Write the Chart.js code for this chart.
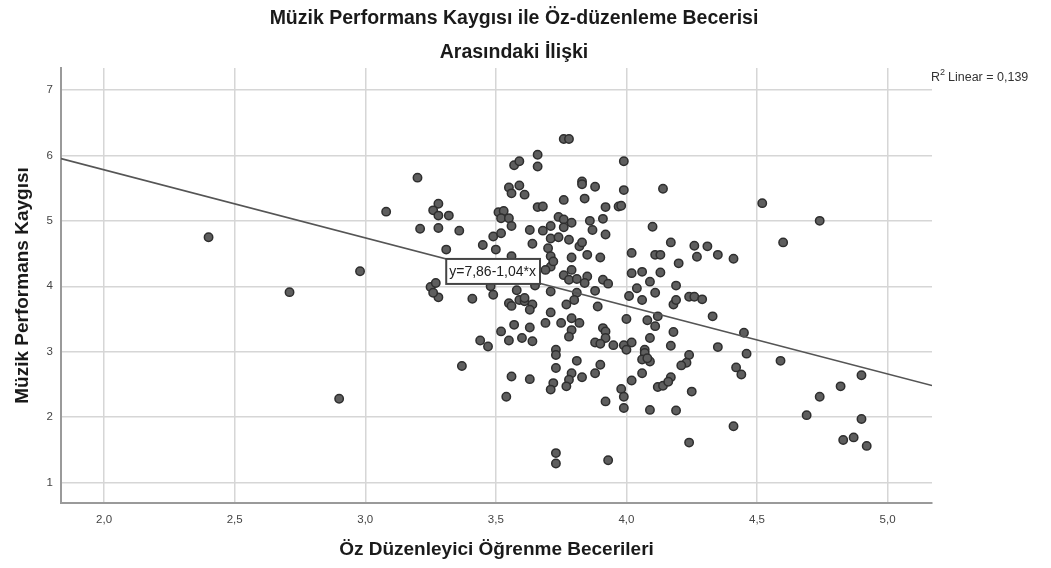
<!DOCTYPE html>
<html>
<head>
<meta charset="utf-8">
<script src="https://cdn.jsdelivr.net/npm/chart.js@4.4.1/dist/chart.umd.min.js"></script>
<style>
  html, body { margin: 0; padding: 0; background: #fff; }
  canvas { display: block; }
</style>
</head>
<body>
<canvas id="chart" width="1051" height="568"></canvas>
<script>
// Öz düzenleyici öğrenme becerileri (x) and müzik performans kaygısı (y)
const skill = [
  2.40, 2.71, 2.90, 2.98, 3.08, 3.20, 3.28, 3.26, 3.28, 3.32,
  3.21, 3.28, 3.36, 3.31, 3.25, 3.27, 3.28, 3.26, 3.41, 3.45,
  3.49, 3.52, 3.50, 3.56, 3.57, 3.59, 3.55, 3.56, 3.59, 3.61,
  3.51, 3.53, 3.52, 3.55, 3.56, 3.48, 3.49, 3.55, 3.58, 3.59,
  3.56, 3.61, 3.57, 3.52, 3.55, 3.60, 3.44, 3.47, 3.37, 3.56,
  3.54, 3.76, 3.78, 3.66, 3.66, 3.99, 3.83, 3.83, 3.88, 3.99,
  4.14, 3.76, 3.84, 3.66, 3.68, 3.92, 3.97, 3.98, 3.74, 3.76,
  3.79, 3.76, 3.71, 3.68, 3.63, 3.86, 3.87, 3.91, 3.92, 4.10,
  3.64, 3.71, 3.74, 3.78, 3.70, 3.71, 3.82, 3.83, 3.85, 3.79,
  3.90, 4.02, 4.11, 4.13, 3.71, 3.69, 3.72, 3.79, 3.76, 3.78,
  3.81, 3.85, 3.84, 3.91, 3.93, 4.02, 4.06, 4.13, 4.09, 3.88,
  3.71, 4.01, 4.04, 4.06, 4.11, 3.81, 3.80, 3.77, 3.65, 3.64,
  3.89, 3.61, 3.63, 3.71, 3.69, 3.75, 3.79, 3.82, 3.79, 3.78,
  3.63, 3.64, 3.91, 3.92, 3.92, 3.88, 3.90, 4.00, 4.08, 4.11,
  4.12, 3.95, 3.99, 4.00, 4.02, 4.09, 4.07, 4.07, 4.06, 4.09,
  4.08, 3.73, 3.73, 3.73, 3.81, 3.90, 3.88, 3.79, 3.83, 3.78,
  3.77, 3.72, 3.71, 3.63, 4.02, 4.06, 3.98, 3.99, 3.99, 3.92,
  4.09, 4.12, 4.14, 3.73, 3.73, 3.93, 4.52, 4.60, 4.17, 4.26,
  4.31, 4.27, 4.35, 4.41, 4.20, 4.19, 4.18, 4.19, 4.24, 4.26,
  4.29, 4.33, 4.18, 4.17, 4.35, 4.45, 4.46, 4.59, 4.24, 4.23,
  4.21, 4.42, 4.44, 4.17, 4.16, 4.25, 4.19, 4.41, 4.24, 4.69,
  4.74, 4.90, 4.82, 4.74, 4.90, 4.83, 4.87, 4.92
];
const anxiety = [
  4.75, 3.91, 2.28, 4.23, 5.14, 5.66, 5.26, 5.16, 5.08, 5.08,
  4.88, 4.89, 4.85, 4.56, 3.99, 4.05, 3.83, 3.90, 3.81, 4.63,
  4.76, 4.81, 4.56, 4.46, 5.85, 5.91, 5.51, 5.42, 5.54, 5.40,
  5.13, 5.15, 5.04, 5.04, 4.92, 4.00, 3.87, 3.74, 3.94, 3.79,
  3.70, 3.77, 3.41, 3.31, 3.17, 3.21, 3.17, 3.08, 2.78, 2.62,
  2.31, 6.25, 6.25, 6.01, 5.83, 5.91, 5.60, 5.56, 5.52, 5.47,
  5.49, 5.32, 5.34, 5.21, 5.22, 5.21, 5.22, 5.23, 5.06, 5.02,
  4.97, 4.90, 4.92, 4.85, 4.86, 5.00, 4.86, 5.03, 4.79, 4.91,
  4.65, 4.73, 4.75, 4.71, 4.58, 4.46, 4.61, 4.67, 4.48, 4.44,
  4.44, 4.51, 4.48, 4.48, 4.30, 4.25, 4.38, 4.25, 4.17, 4.10,
  4.11, 4.15, 4.05, 4.10, 4.04, 4.20, 4.22, 4.21, 4.07, 3.93,
  3.92, 3.85, 3.97, 3.79, 3.90, 3.90, 3.79, 3.72, 4.01, 3.72,
  3.69, 3.82, 3.64, 3.60, 3.44, 3.44, 3.51, 3.44, 3.33, 3.23,
  3.37, 3.16, 3.36, 3.31, 3.21, 3.14, 3.12, 3.50, 3.48, 3.39,
  3.54, 3.10, 3.10, 3.03, 3.14, 3.21, 3.03, 2.98, 2.88, 2.85,
  2.90, 3.03, 2.95, 2.75, 2.86, 2.80, 2.67, 2.67, 2.61, 2.57,
  2.47, 2.52, 2.42, 2.58, 2.56, 2.67, 2.43, 2.31, 2.14, 2.24,
  2.11, 2.46, 2.48, 1.45, 1.29, 1.34, 5.27, 4.67, 4.67, 4.62,
  4.61, 4.45, 4.48, 4.42, 4.35, 4.01, 3.72, 3.79, 3.84, 3.84,
  3.80, 3.54, 3.30, 3.09, 3.07, 3.29, 2.97, 2.86, 2.95, 2.83,
  2.79, 2.76, 2.65, 2.61, 2.54, 2.39, 2.10, 1.86, 1.61, 2.03,
  5.00, 2.64, 2.47, 2.31, 1.97, 1.65, 1.69, 1.56
];

// axis ticks
const xTicks = [2.0, 2.5, 3.0, 3.5, 4.0, 4.5, 5.0];
const yTicks = [1, 2, 3, 4, 5, 6, 7];

// linear fit reported by SPSS
const intercept = 7.86;
const slope = -1.04;
const rSquared = 0.139;

const xMin = 1.835, xMax = 5.17;
const yMin = 0.687, yMax = 7.336;

const comma = v => v.toFixed(1).replace('.', ',');

const points = skill.map((x, i) => ({ x: x, y: anxiety[i] }));
const fitLine = [xMin, xMax].map(x => ({ x: x, y: intercept + slope * x }));

const FONT = '"Liberation Sans", Arial, sans-serif';

const extras = {
  id: 'extras',
  afterDraw(chart) {
    const ctx = chart.ctx;
    const area = chart.chartArea;
    const xs = chart.scales.x, ys = chart.scales.y;
    ctx.save();

    // title (two lines)
    ctx.fillStyle = '#1a1a1a';
    ctx.font = 'bold 19.5px ' + FONT;
    ctx.textAlign = 'center';
    ctx.textBaseline = 'middle';
    ctx.fillText('Müzik Performans Kaygısı ile Öz-düzenleme Becerisi', 514, 19);
    ctx.fillText('Arasındaki İlişki', 514, 53);

    // R² label
    ctx.textAlign = 'left';
    ctx.fillStyle = '#333';
    ctx.font = '12.5px ' + FONT;
    let tx = area.right - 1;
    ctx.fillText('R', tx, 78);
    tx += ctx.measureText('R').width;
    ctx.font = '9px ' + FONT;
    ctx.fillText('2', tx, 73);
    tx += ctx.measureText('2').width + 3;
    ctx.font = '12.5px ' + FONT;
    ctx.fillText('Linear = ' + rSquared.toFixed(3).replace('.', ','), tx, 78);

    // equation box on the fit line
    const bx = xs.getPixelForValue(3.31);
    const by = ys.getPixelForValue(intercept + slope * 3.31);
    const label = 'y=' + intercept.toFixed(2).replace('.', ',') + '-' +
      Math.abs(slope).toFixed(2).replace('.', ',') + '*x';
    ctx.font = '14px ' + FONT;
    const w = ctx.measureText(label).width + 7;
    const h = 25;
    ctx.fillStyle = '#fff';
    ctx.fillRect(bx, by, w, h);
    ctx.strokeStyle = '#444';
    ctx.lineWidth = 2;
    ctx.strokeRect(bx, by, w, h);
    ctx.fillStyle = '#222';
    ctx.textBaseline = 'middle';
    ctx.fillText(label, bx + 3, by + h / 2 + 1);

    ctx.restore();
  }
};

new Chart(document.getElementById('chart'), {
  type: 'scatter',
  data: {
    datasets: [
      {
        type: 'line',
        data: fitLine,
        borderColor: '#555',
        borderWidth: 1.6,
        pointRadius: 0,
        fill: false,
        order: 0
      },
      {
        data: points,
        backgroundColor: '#5e5e5e',
        borderColor: '#2e2e2e',
        borderWidth: 1.5,
        pointRadius: 4.2,
        order: 1
      }
    ]
  },
  options: {
    responsive: false,
    animation: false,
    layout: { padding: { top: 68, right: 119, left: 0, bottom: 0 } },
    plugins: {
      legend: { display: false },
      tooltip: { enabled: false },
      title: { display: false }
    },
    scales: {
      x: {
        type: 'linear',
        min: xMin,
        max: xMax,
        afterBuildTicks: s => { s.ticks = xTicks.map(v => ({ value: v })); },
        afterFit: s => { s.height = 65; },
        ticks: {
          callback: v => comma(v),
          color: '#444',
          font: { family: FONT, size: 11.5 },
          padding: 10
        },
        grid: { color: '#d6d6d6', lineWidth: 1.5, drawTicks: false },
        border: { color: '#9a9a9a', width: 2 },
        title: {
          display: true,
          text: 'Öz Düzenleyici Öğrenme Becerileri',
          color: '#1a1a1a',
          font: { family: FONT, size: 19, weight: 'bold' },
          padding: { top: 0, bottom: 7 }
        }
      },
      y: {
        type: 'linear',
        min: yMin,
        max: yMax,
        afterBuildTicks: s => { s.ticks = yTicks.map(v => ({ value: v })); },
        afterFit: s => { s.width = 61; },
        ticks: {
          callback: v => String(v),
          color: '#444',
          font: { family: FONT, size: 11.5 },
          padding: 8
        },
        grid: { color: '#d6d6d6', lineWidth: 1.5, drawTicks: false },
        border: { color: '#9a9a9a', width: 2 },
        title: {
          display: true,
          text: 'Müzik Performans Kaygısı',
          color: '#1a1a1a',
          font: { family: FONT, size: 19, weight: 'bold' },
          padding: { top: 11, bottom: 0 }
        }
      }
    }
  },
  plugins: [extras]
});
</script>
</body>
</html>
